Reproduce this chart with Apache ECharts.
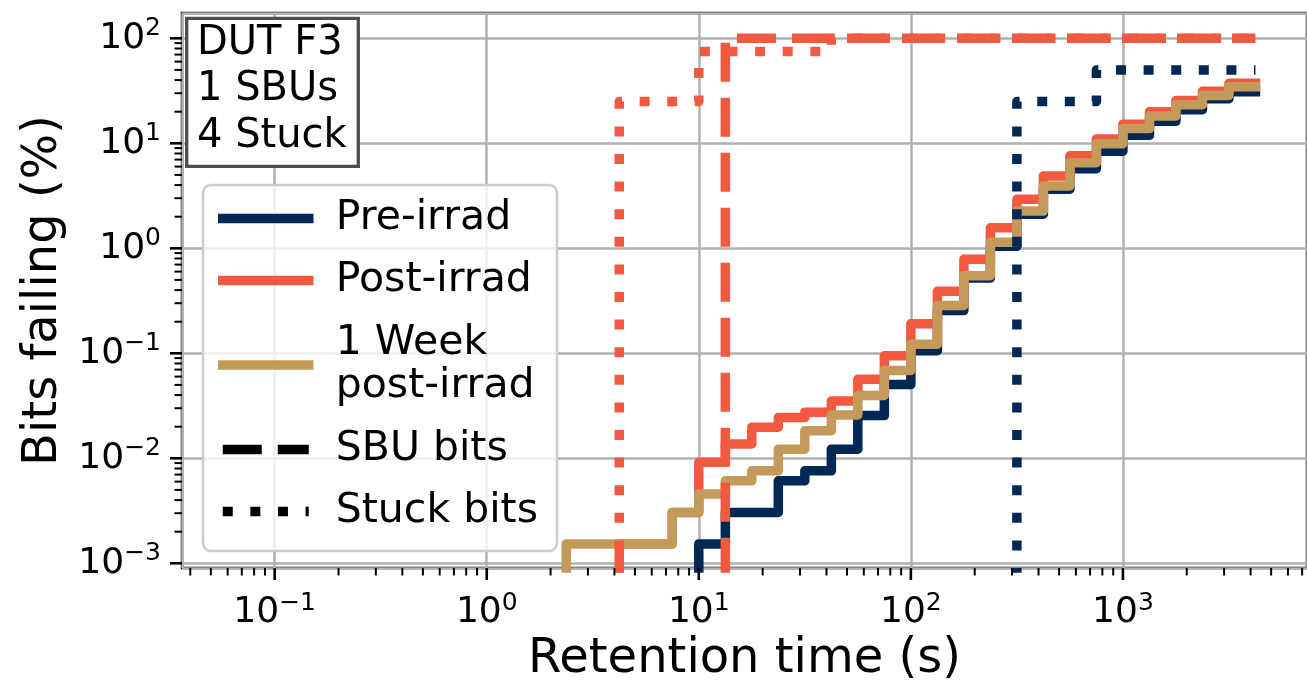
<!DOCTYPE html>
<html><head><meta charset="utf-8">
<script src="https://cdn.jsdelivr.net/npm/echarts@6/dist/echarts.min.js"></script>
<style>html,body{margin:0;padding:0;background:#fff}#c{width:1307px;height:690px}</style>
</head><body><div id="c"></div>
<script>
// Retention-time steps (s)
const times = [2.371, 4.217, 7.499, 10, 13.34, 17.78, 23.71, 31.62, 42.17, 56.23, 74.99, 100, 133.4, 177.8, 237.1, 316.2, 421.7, 562.3, 749.9, 1000, 1334, 1778, 2371, 3162, 4217];
// Bits failing (%) at each retention time; null = no failing bits yet
const preIrrad  = [null, null, null, 0.00153, 0.00305, 0.00305, 0.0061, 0.0076, 0.0122, 0.0255, 0.0504, 0.106, 0.255, 0.52, 1.045, 2.11, 3.65, 5.73, 8.4, 11.9, 16.2, 20.9, 26.6, 31.0, 31.0];
const postIrrad = [null, 0.00153, 0.00305, 0.00916, 0.0137, 0.0198, 0.0244, 0.0275, 0.0351, 0.0565, 0.0946, 0.191, 0.389, 0.785, 1.57, 2.93, 4.89, 7.62, 11.0, 15.2, 20.0, 25.5, 31.3, 37.3, 37.3];
const weekPost  = [0.00153, 0.00153, 0.00305, 0.00458, 0.0061, 0.0076, 0.0122, 0.0183, 0.0259, 0.0397, 0.0687, 0.122, 0.286, 0.548, 1.14, 2.26, 3.92, 6.53, 9.9, 13.8, 18.2, 23.3, 28.6, 34.6, 34.6];
const sbuPost   = [null, null, null, null, 100, 100, 100, 100, 100, 100, 100, 100, 100, 100, 100, 100, 100, 100, 100, 100, 100, 100, 100, 100, 100];
const stuckPost = [null, 25, 25, 75, 75, 75, 75, 75, 100, 100, 100, 100, 100, 100, 100, 100, 100, 100, 100, 100, 100, 100, 100, 100, 100];
const stuckPre  = [null, null, null, null, null, null, null, null, null, null, null, null, null, null, null, 25, 25, 25, 50, 50, 50, 50, 50, 50, 50];
const ZERO = 1e-6; // stands for 0 % on the log axis (below the visible range)

// Axis ticks
const xMajorTicks = [0.1, 1, 10, 100, 1000];
const xTickLabels = ['10|\u22121', '10|0', '10|1', '10|2', '10|3'];
const xMinorTicks = [0.04, 0.05, 0.06, 0.07, 0.08, 0.09, 0.2, 0.3, 0.4, 0.5, 0.6, 0.7, 0.8, 0.9, 2, 3, 4, 5, 6, 7, 8, 9, 20, 30, 40, 50, 60, 70, 80, 90, 200, 300, 400, 500, 600, 700, 800, 900, 2000, 3000, 4000, 5000, 6000, 7000];
const yMajorTicks = [0.001, 0.01, 0.1, 1, 10, 100];
const yTickLabels = ['10|\u22123', '10|\u22122', '10|\u22121', '10|0', '10|1', '10|2'];
const yMinorTicks = [0.002, 0.003, 0.004, 0.005, 0.006, 0.007, 0.008, 0.009, 0.02, 0.03, 0.04, 0.05, 0.06, 0.07, 0.08, 0.09, 0.2, 0.3, 0.4, 0.5, 0.6, 0.7, 0.8, 0.9, 2, 3, 4, 5, 6, 7, 8, 9, 20, 30, 40, 50, 60, 70, 80, 90];

const X_MIN = 0.03656, X_MAX = 7379, Y_MIN = 0.000902, Y_MAX = 174.2;
const NAVY = '#002855', RED = '#F15A40', TAN = '#C49A5B';
const FONT = 'DejaVu Sans';

function stepData(vals) {
  const out = [];
  for (let i = 0; i < vals.length; i++) {
    if (vals[i] == null) continue;
    if (out.length === 0) out.push([times[i], ZERO]);
    out.push([times[i], vals[i]]);
  }
  return out;
}
function labelFor(v, majors, labels) {
  for (let i = 0; i < majors.length; i++) {
    if (Math.abs(Math.log10(v) - Math.log10(majors[i])) < 1e-6) {
      const p = labels[i].split('|');
      return '{b|' + p[0] + '}{s|' + p[1] + '}';
    }
  }
  return '';
}
const LW = 9.5;
const DASH = [39, 16], DOT = [10, 17.6];
function lineSeries(name, vals, color, type, cap, offset) {
  return {
    name: name, type: 'line', step: 'end', symbol: 'none', silent: true,
    data: stepData(vals), clip: true,
    lineStyle: { color: color, width: LW, type: type, cap: cap, join: 'round', dashOffset: offset || 0 },
    itemStyle: { color: color }
  };
}
const tickData = (maj, min) => maj.map(v => [v, v, 1]).concat(min.map(v => [v, v, 0]));

const chart = echarts.init(document.getElementById('c'), null, { renderer: 'canvas' });
const richLabel = {
  b: { fontFamily: FONT, fontSize: 36, color: '#000', lineHeight: 44 },
  s: { fontFamily: FONT, fontSize: 25, color: '#000', lineHeight: 25, verticalAlign: 'top' }
};
chart.setOption({
  animation: false,
  backgroundColor: '#fff',
  grid: { left: 182, right: -4, top: 13, bottom: 122, show: true, borderColor: '#000', borderWidth: 2.5, backgroundColor: 'transparent' },
  xAxis: {
    type: 'log', logBase: 10, min: X_MIN, max: X_MAX,
    name: 'Retention time (s)', nameLocation: 'middle', nameGap: 51,
    nameTextStyle: { fontFamily: FONT, fontSize: 48, color: '#000' },
    axisLine: { show: false }, axisTick: { show: false }, minorTick: { show: false },
    splitLine: { show: true, lineStyle: { color: '#b0b0b0', width: 2.5 } },
    axisLabel: { margin: 23, showMinLabel: false, showMaxLabel: false, formatter: v => labelFor(v, xMajorTicks, xTickLabels), rich: richLabel }
  },
  yAxis: {
    type: 'log', logBase: 10, min: Y_MIN, max: Y_MAX,
    name: 'Bits failing (%)', nameLocation: 'middle', nameGap: 112, nameRotate: 90,
    nameTextStyle: { fontFamily: FONT, fontSize: 48, color: '#000' },
    axisLine: { show: false }, axisTick: { show: false }, minorTick: { show: false },
    splitLine: { show: true, lineStyle: { color: '#b0b0b0', width: 2.5 } },
    axisLabel: { margin: 21, showMinLabel: false, showMaxLabel: false, formatter: v => labelFor(v, yMajorTicks, yTickLabels), rich: richLabel }
  },
  legend: {
    orient: 'vertical', left: 203, top: 185, selectedMode: false,
    data: ['Pre-irrad', 'Post-irrad', '1 Week post-irrad', 'SBU bits', 'Stuck bits'],
    itemWidth: 86, itemHeight: 40, itemGap: 21,
    padding: [13, 19, 19, 15],
    backgroundColor: 'rgba(255,255,255,0.8)', borderColor: '#cccccc', borderWidth: 2.5, borderRadius: 8,
    lineStyle: { width: LW },
    itemStyle: { color: 'rgba(0,0,0,0)', borderWidth: 0, opacity: 0 },
    formatter: n => n === '1 Week post-irrad' ? '{t|1 Week}\n{t|post-irrad}' : n,
    textStyle: { fontFamily: FONT, fontSize: 41, color: '#000', lineHeight: 40, padding: [0, 0, 0, 22],
      rich: { t: { fontFamily: FONT, fontSize: 41, color: '#000', lineHeight: 43 } } }
  },
  graphic: [
    { type: 'rect', z: 100, shape: { x: 186.7, y: 18.3, width: 171.6, height: 148 }, style: { fill: '#fff', stroke: '#4d4d4d', lineWidth: 3.3 } },
    { type: 'text', z: 101, x: 197, y: 20, style: { text: 'DUT F3\n1 SBUs\n4 Stuck', font: '40px "DejaVu Sans"', lineHeight: 46.7, fill: '#000', verticalAlign: 'top' } }
  ],
  series: [
    lineSeries('Pre-irrad', preIrrad, NAVY, 'solid', 'square'),
    lineSeries('Post-irrad', postIrrad, RED, 'solid', 'square'),
    lineSeries('1 Week post-irrad', weekPost, TAN, 'solid', 'square'),
    lineSeries('SBU post', sbuPost, RED, DASH, 'butt', 28.4),
    lineSeries('Stuck post', stuckPost, RED, DOT, 'butt', 3.3),
    lineSeries('Stuck pre', stuckPre, NAVY, DOT, 'butt', 3.3),
    { name: 'SBU bits', type: 'line', symbol: 'none', data: [], lineStyle: { color: '#000', width: LW, type: DASH, cap: 'butt' }, itemStyle: { color: '#000' } },
    { name: 'Stuck bits', type: 'line', symbol: 'none', data: [], lineStyle: { color: '#000', width: LW, type: DOT, cap: 'butt' }, itemStyle: { color: '#000' } },
    { name: 'xticks', type: 'custom', silent: true, z: 10, clip: false, data: tickData(xMajorTicks, xMinorTicks), encode: { x: 0, y: 1 },
      renderItem: function (params, api) {
        const cs = params.coordSys; const px = api.coord([api.value(0), 1])[0]; const maj = api.value(2) === 1;
        const y0 = cs.y + cs.height;
        return { type: 'line', shape: { x1: px, y1: y0, x2: px, y2: y0 + (maj ? 12 : 7.5) }, style: { stroke: '#000', lineWidth: maj ? 2.6 : 2 } };
      } },
    { name: 'yticks', type: 'custom', silent: true, z: 10, clip: false, data: tickData(yMajorTicks, yMinorTicks), encode: { x: 0, y: 1 },
      renderItem: function (params, api) {
        const cs = params.coordSys; const py = api.coord([1, api.value(1)])[1]; const maj = api.value(2) === 1;
        return { type: 'line', shape: { x1: cs.x, y1: py, x2: cs.x - (maj ? 12 : 7.5), y2: py }, style: { stroke: '#000', lineWidth: maj ? 2.6 : 2 } };
      } }
  ]
});
</script></body></html>
